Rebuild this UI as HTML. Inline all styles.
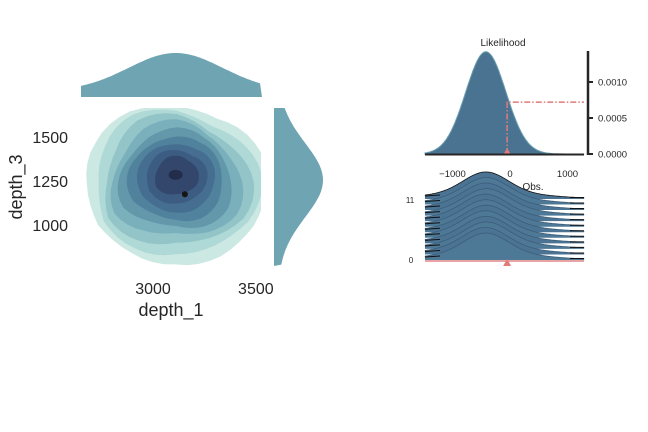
<!DOCTYPE html>
<html><head><meta charset="utf-8"><style>
body{margin:0;background:#fff;width:648px;height:432px;overflow:hidden}
svg{display:block}
text{font-family:"Liberation Sans",Arial,sans-serif;fill:#262626}
</style></head><body>
<svg id="c" width="648" height="432"></svg>
<script>
// ---- data ----
const kdeLevels=[1,2,3,4,5,6,7,8,9];
const kdeColors=['#cce8e2','#afd9d6','#92c4c8','#79b0bb','#6298aa','#50829d','#456e90','#3d5c82','#33466c'];
const kdeCenterX=3110, kdeCenterY=1230;
const outerRad=[1.02,0.96,0.92,1.0,1.02,0.97,0.98,1.04,0.96,0.92,1.0,1.05];
const peakX=3110, peakY=1285;
const pointX=3155, pointY=1175;
const likeMean=-420, likeSd=350, likePeak=0.00142;
const obsValue=-50, obsLik=0.00072;
const likeYTicks=[0,0.0005,0.0010];
const likeYTickLabels=['0.0000','0.0005','0.0010'];
const likeXTicks=[-1000,0,1000];
const ridgeRows=[0,1,2,3,4,5,6,7,8,9,10,11];
const ridgeMeans=[-420,-430,-410,-420,-425,-415,-420,-430,-410,-420,-415,-420];
// ---- scales ----
const jx=v=>81+(v-2650)*180/875, jy=v=>108+(1665-v)*158/898;
const lx=v=>510+v*0.0575, ly=v=>154-v*72000;
const NS='http://www.w3.org/2000/svg', svg=document.getElementById('c');
function el(t,a,p){const e=document.createElementNS(NS,t);for(const k in a)e.setAttribute(k,a[k]);(p||svg).appendChild(e);return e;}
function txt(s,a){const e=el('text',a);e.textContent=s;return e;}
// ---- joint KDE ----
const g=el('g',{});


kdeLevels.forEach((lv,i)=>{
  const f=1.0-i*0.095;
  const pts=[];
  for(let k=0;k<48;k++){
    const a=k/48*2*Math.PI;
    const j=k/4, j0=Math.floor(j)%12, j1=(j0+1)%12, t=j-Math.floor(j);
    const r=(outerRad[j0]*(1-t)+outerRad[j1]*t)*(1+0.05*Math.sin(3*a+i));
    const cx=kdeCenterX+(i/9)*(peakX-kdeCenterX)+(i/9)*20*Math.max(0,Math.sin(a)), cy=kdeCenterY+(i/9)*(peakY-kdeCenterY);
    pts.push([jx(cx+Math.cos(a)*440*r*f), jy(cy+Math.sin(a)*470*r*f)]);
  }
  let d='M'+pts.map(p=>p[0].toFixed(1)+','+p[1].toFixed(1)).join('L')+'Z';
  const p=el('path',{d,fill:kdeColors[i]},g);
  
  
});
el('rect',{x:0,y:100,width:81,height:180,fill:'#fff'});
el('rect',{x:261,y:100,width:12,height:180,fill:'#fff'});
el('rect',{x:60,y:266,width:220,height:20,fill:'#fff'});
el('rect',{x:60,y:98,width:220,height:10,fill:'#fff'});
const pk=el('ellipse',{cx:jx(peakX),cy:jy(peakY),rx:7,ry:5,fill:'#232c48'});

const pt=el('circle',{cx:jx(pointX),cy:jy(pointY),r:3,fill:'#151515'});

// marginals
let d='M81,97';for(let v=2650;v<=3525;v+=10){const y=97-38*Math.exp(-Math.pow((v-3110)/230,2)/2)-6;d+='L'+jx(v).toFixed(1)+','+y.toFixed(1);}d+='L262,97Z';
const mt=el('path',{d,fill:'#6fa5b3'});
d='M274,108';for(let v=1665;v>=767;v-=10){const x=274+45*Math.exp(-Math.pow((v-1255)/210,2)/2)+4;d+='L'+x.toFixed(1)+','+jy(v).toFixed(1);}d+='L274,266Z';
const mr=el('path',{d,fill:'#6fa5b3'});
[3000,3500].forEach(v=>{const t=txt(String(v),{x:jx(v),y:294,'font-size':16,'text-anchor':'middle'});});
[1000,1250,1500].forEach(v=>{const t=txt(String(v),{x:68,y:jy(v)+6,'font-size':16,'text-anchor':'end'});});
let t=txt('depth_1',{x:171,y:316,'font-size':18,'text-anchor':'middle'});
t=txt('depth_3',{x:0,y:0,'font-size':18,'text-anchor':'middle',transform:'translate(22,187) rotate(-90)'});
// ---- likelihood ----
d='M425,154';for(let v=-1480;v<=1290;v+=10){d+='L'+lx(v).toFixed(1)+','+ly(likePeak*Math.exp(-Math.pow((v-likeMean)/likeSd,2)/2)).toFixed(1);}d+='L584,154Z';
const lk=el('path',{d,fill:'#4a7392',stroke:'#6a9fb0','stroke-width':1});
const rl=el('polyline',{points:`${lx(obsValue)},154 ${lx(obsValue)},${ly(obsLik)} 584,${ly(obsLik)}`,fill:'none',stroke:'#e07b7b','stroke-width':1.5,'stroke-dasharray':'6,2,1.5,2'});

el('path',{d:`M${lx(obsValue)-4},155L${lx(obsValue)},148L${lx(obsValue)+4},155Z`,fill:'#e07b7b'});
el('line',{x1:425,y1:154.5,x2:584,y2:154.5,stroke:'#262626','stroke-width':2});
el('line',{x1:588,y1:51,x2:588,y2:155,stroke:'#262626','stroke-width':2.5});
likeYTicks.forEach((v,i)=>{el('line',{x1:588,y1:ly(v),x2:593,y2:ly(v),stroke:'#262626','stroke-width':2});
 const tt=txt(likeYTickLabels[i],{x:598,y:ly(v)+3.5,'font-size':9.5});});
likeXTicks.forEach(v=>{const tt=txt(v<0?'−1000':String(v),{x:lx(v),y:177,'font-size':9.5,'text-anchor':'middle'});});
t=txt('Likelihood',{x:503,y:46,'font-size':10,'text-anchor':'middle'});
// ---- ridges ----
const rowY=r=>260-r*5.55;
for(let i=ridgeRows.length-1;i>=0;i--){
  const r=ridgeRows[i], b=rowY(r);
  let top='';
  for(let v=-1480;v<=1290;v+=10){const x=v-ridgeMeans[i];const h=20*Math.exp(-Math.pow(x/380,2)/2)+7*Math.exp(-Math.pow(x/900,2)/2);top+='L'+lx(v).toFixed(1)+','+(b-h).toFixed(1);}
  const rp=el('path',{d:'M425,'+b+top+'L584,'+b+'Z',fill:i%2?'#4b7494':'#4d7896'});
  
  el('path',{d:'M'+top.slice(1),fill:'none',stroke:i===11?'#111':'#3d5d78','stroke-width':0.8});
  el('path',{d:'M425,'+(b-3)+'L440,'+(b-4)+'M570,'+(b-1.5)+'L584,'+(b-1.5),stroke:'#111','stroke-width':1});
}
el('line',{x1:425,y1:261,x2:584,y2:261,stroke:'#e08585','stroke-width':1.5});
el('path',{d:`M${lx(obsValue)-4},266L${lx(obsValue)},259L${lx(obsValue)+4},266Z`,fill:'#e07b7b'});
t=txt('Obs.',{x:533,y:190,'font-size':10,'text-anchor':'middle'});
t=txt('11',{x:410,y:203,'font-size':8,'text-anchor':'middle'});
t=txt('0',{x:411,y:263,'font-size':8,'text-anchor':'middle'});
</script>
</body></html>
